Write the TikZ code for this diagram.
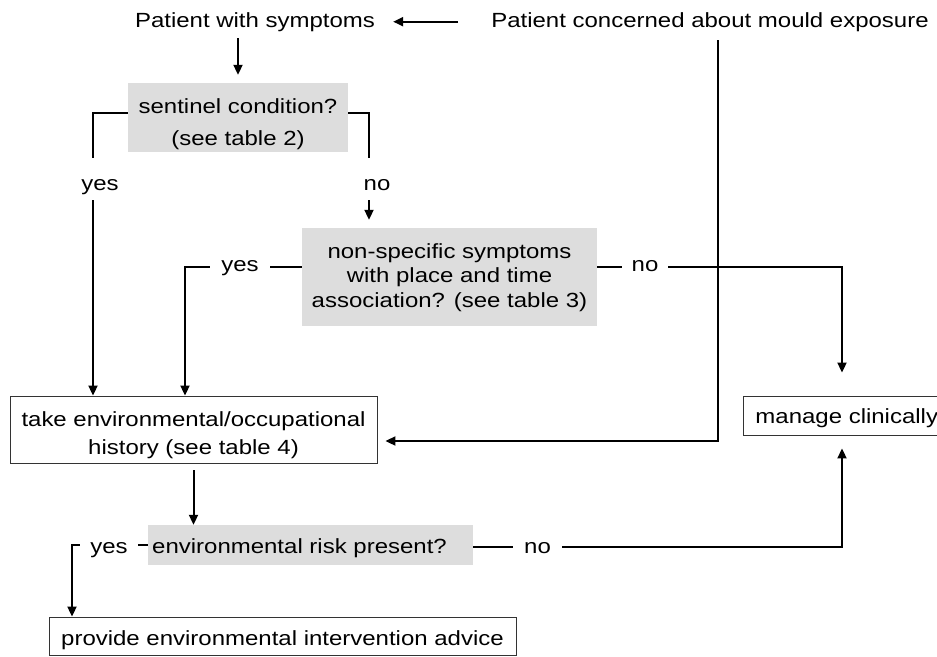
\documentclass[tikz,border=0pt]{standalone}
\usepackage{fontspec}
\setmainfont{Liberation Sans}[FakeStretch=1.17]
\usetikzlibrary{arrows.meta}
\definecolor{boxgray}{RGB}{221,221,221}
\begin{document}
\begin{tikzpicture}[x=1pt,y=-1pt,
  every node/.style={font=\fontsize{20.5}{25}\selectfont, inner sep=0pt},
  gbox/.style={fill=boxgray},
  wbox/.style={draw=black!80, line width=0.9pt, fill=white},
  txt/.style={align=center, anchor=north},
  conn/.style={line width=2pt, draw=black},
  arr/.style={conn, -{Triangle[length=10pt,width=9pt]}},
  lab/.style={fill=white, anchor=base, inner xsep=#1},
  lab/.default=10pt]
\useasboundingbox (0,0) rectangle (937,656);
\clip (0,0) rectangle (937,656);

% top texts
\node[anchor=base] (sym) at (255,27) {Patient with symptoms};
\node[anchor=base] (con) at (710,27) {Patient concerned about mould exposure};

% decision and process boxes
\node[gbox, minimum width=220pt, minimum height=69pt] (sen) at (238,117.5) {};
\node[txt, font=\fontsize{20.5}{32}\selectfont] (sent) at (238,98.3)
  {sentinel condition?\\(see table 2)};
\node[gbox, minimum width=295pt, minimum height=98pt] (ns) at (449.5,277) {};
\node[txt, font=\fontsize{20.5}{24.5}\selectfont] (nst) at (449.5,243)
  {non-specific symptoms\\with place and time\\association? (see table 3)};
\node[wbox, minimum width=367pt, minimum height=67pt] (take) at (193.5,429.5) {};
\node[txt, font=\fontsize{20.5}{28}\selectfont] (taket) at (193.5,411)
  {take environmental/occupational\\history (see table 4)};
\node[wbox, anchor=base west, text height=27pt, text depth=12pt, inner xsep=12pt]
  (man) at (743,423) {manage clinically};
\node[gbox, anchor=base west, text height=28pt, text depth=12pt, inner xsep=4pt]
  (env) at (148,553) {\makebox[317pt][l]{environmental risk present?}};
\node[wbox, anchor=base, text height=28pt, text depth=10pt, minimum width=467pt]
  (prov) at (282.5,645) {provide environmental intervention advice};
\coordinate (mx) at (842,0);

% connectors
\draw[arr, shorten <=33pt, shorten >=18pt] (con.west) -- (sym.east);
\draw[arr, shorten <=7pt, shorten >=8pt] (sym.south -| sen.north) -- (sen.north);
\draw[arr] ([yshift=4.5pt]sen.west) -| ([xshift=-100.5pt]take.north);
\draw[arr, shorten >=8pt] ([yshift=4.5pt]sen.east) -| ([xshift=-80.5pt]ns.north);
\draw[arr] ([yshift=10pt]ns.west) -| ([xshift=-8.5pt]take.north);
\draw[arr, shorten >=23pt] ([yshift=10pt]ns.east) -| (mx |- man.north);
\draw[arr, shorten <=9pt, shorten >=8pt] ([xshift=8pt]con.south) |- ([yshift=-11.5pt]take.east);
\draw[arr, shorten <=7pt] (take.south) -- (take.south |- env.north);
\draw[arr] (env.west) -| ([xshift=-210.5pt]prov.north);
\draw[arr, shorten >=13pt] ([yshift=-2pt]env.east) -| (mx |- man.south);

% labels
\node[lab=2pt, text height=32pt, text depth=10pt] (y1) at (100,190) {yes};
\node[lab=2pt, text height=32pt, text depth=10pt] (n1) at (377,190) {no};
\node[lab=11.3pt] (y2) at (240,271.7) {yes};
\node[lab=9.7pt] (n2) at (645,271.7) {no};
\node[lab=10.3pt] (y3) at (109,553) {yes};
\node[lab=11.1pt] (n3) at (537.5,553) {no};
\end{tikzpicture}
\end{document}
